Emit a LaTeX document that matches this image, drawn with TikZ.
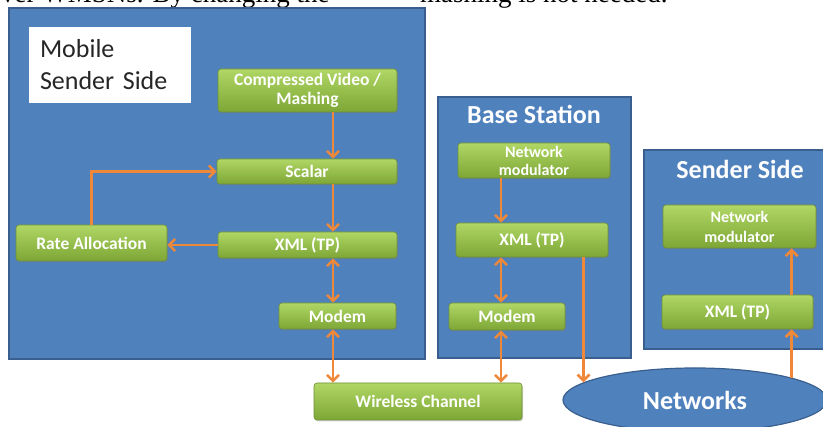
\documentclass[tikz,border=0pt]{standalone}
\usepackage{fontspec}
\setmainfont{Carlito}
\newfontfamily\notefont{Liberation Serif}
\usetikzlibrary{arrows.meta,shapes.geometric,shadows}
\definecolor{panelblue}{HTML}{4F81BD}
\definecolor{panelline}{HTML}{3A5F8F}
\definecolor{boxtop}{HTML}{B0D765}
\definecolor{boxbot}{HTML}{7DA636}
\definecolor{boxline}{HTML}{6E8F35}
\definecolor{linkorange}{HTML}{F0883A}
\definecolor{namegray}{HTML}{262626}

\begin{document}
\begin{tikzpicture}[
    x=1pt, y=-1pt,
    >={Straight Barb[length=6pt,width=12pt]},
    panel/.style={draw=panelline, line width=1.2pt, fill=panelblue},
    namebox/.style={rectangle, fill=white, minimum width=162pt, minimum height=76pt, text width=140pt, align=left, text=namegray, font=\fontsize{26}{32}\selectfont},
    gbox/.style={rectangle, rounded corners=3pt, draw=boxline, line width=0.6pt, top color=boxtop, bottom color=boxbot, text=white, align=center, inner sep=1pt, font=\fontsize{17.5}{18.5}\selectfont\bfseries, drop shadow={shadow xshift=1pt, shadow yshift=-1.5pt, opacity=0.35}},
    modbox/.style={gbox, font=\fontsize{16}{18}\selectfont\bfseries},
    title/.style={text=white, inner sep=0pt, font=\fontsize{26}{28}\selectfont\bfseries},
    cloud/.style={ellipse, draw=panelline, line width=1.2pt, fill=panelblue, text=white, font=\fontsize{26}{28}\selectfont\bfseries},
    arr/.style={->, line width=2.6pt, draw=linkorange},
    darr/.style={<->, line width=2.6pt, draw=linkorange}
]
    \useasboundingbox (0,0) rectangle (823,427);
    \clip (0,0) rectangle (823,427);

    % running text cut off at the top
    \node[anchor=base west, inner sep=0pt, font=\notefont\fontsize{27}{30}\selectfont] (note1) at (1,3) {ver WMSNs. By changing the};
    \node[anchor=base west, inner sep=0pt, font=\notefont\fontsize{27}{30}\selectfont] (note2) at (420,3) {mashing is not needed.};

    % panels
    \draw[panel] (9,8) rectangle (425,359);
    \draw[panel] (438,97) rectangle (631,358);
    \draw[panel] (644,150) rectangle (835,349);

    % mobile sender side
    \node[namebox] (mobile) at (110,65) {Mobile\\Sender Side};
    \node[gbox, minimum width=179pt, minimum height=43pt] (video) at (307.5,90.5) {Compressed Video /\\Mashing};
    \node[gbox, minimum width=180pt, minimum height=25pt] (scalar) at (307,171.5) {Scalar};
    \node[gbox, minimum width=179pt, minimum height=26pt] (xmlA) at (307.5,245) {XML (TP)};
    \node[gbox, minimum width=151pt, minimum height=36pt] (rate) at (91.5,243) {Rate Allocation};
    \node[gbox, minimum width=117pt, minimum height=26pt] (modemA) at (337.5,316) {Modem};
    \node[gbox, minimum width=208pt, minimum height=37pt] (wireless) at (418,401.5) {Wireless Channel};

    % base station
    \node[title] (bstitle) at (534,114.5) {Base Station};
    \node[modbox, minimum width=152pt, minimum height=35pt] (nmB) at (534,160.5) {Network\\modulator};
    \node[gbox, minimum width=152pt, minimum height=34pt] (xmlB) at (532,240) {XML (TP)};
    \node[gbox, minimum width=116pt, minimum height=27pt] (modemB) at (507,316.5) {Modem};

    % sender side
    \node[title] (sstitle) at (740,169) {Sender Side};
    \node[modbox, font=\fontsize{16}{20}\selectfont\bfseries, minimum width=153pt, minimum height=43pt] (nmC) at (739.5,226.5) {Network\\modulator};
    \node[gbox, minimum width=151pt, minimum height=34pt] (xmlC) at (737.5,312) {XML (TP)};

    \node[cloud, minimum width=264pt, minimum height=64pt] (networks) at (695,400) {Networks};

    % links
    \coordinate (colA) at (333,0);
    \coordinate (colB) at (501,0);
    \draw[arr] (video.south -| colA) -- (scalar.north -| colA);
    \draw[arr] (scalar.south -| colA) -- (xmlA.north -| colA);
    \draw[darr] (xmlA.south -| colA) -- (modemA.north -| colA);
    \draw[darr] (modemA.south -| colA) -- (wireless.north -| colA);
    \draw[arr] (xmlA.west) -- (xmlA.west -| rate.east);
    \draw[arr] (rate.north) |- (scalar.west);

    \draw[arr] (nmB.south -| colB) -- (xmlB.north -| colB);
    \draw[darr] (xmlB.south -| colB) -- (modemB.north -| colB);
    \draw[darr] (modemB.south -| colB) -- (wireless.north -| colB);
    \draw[arr] (xmlB.south -| networks.171) -- (networks.171);

    \draw[arr] (networks.13) -- (xmlC.south -| networks.13);
    \draw[arr] (xmlC.north -| networks.13) -- (nmC.south -| networks.13);
\end{tikzpicture}
\end{document}
